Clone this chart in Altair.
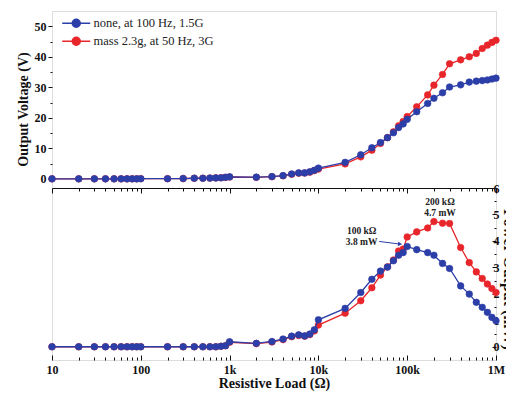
import altair as alt
import pandas as pd

SERIF = "Liberation Serif"

resistance = [10, 20, 30, 40, 50, 60, 70, 80, 90, 100,
              200, 300, 400, 500, 600, 700, 800, 900, 1000,
              2000, 3000, 4000, 5000, 6000, 7000, 8000, 9000, 10000,
              20000, 30000, 40000, 50000, 60000, 70000, 80000, 90000, 100000,
              128000, 170000, 200000, 250000, 300000, 400000, 500000, 600000,
              700000, 800000, 900000, 1000000]

blue_voltage = [0, 0, 0, 0, 0, 0, 0, 0, 0, 0.05,
                0.05, 0.1, 0.2, 0.2, 0.25, 0.3, 0.35, 0.5, 0.65,
                0.55, 0.75, 1.05, 1.6, 1.95, 1.95, 2.3, 2.8, 3.5,
                5.4, 7.9, 10.2, 11.9, 13.5, 15.1, 16.8, 18.0, 19.5,
                22.0, 24.7, 26.4, 28.2, 30.1, 30.8, 31.7, 32.0, 32.2,
                32.4, 32.7, 33.0]

red_voltage = [0, 0, 0, 0, 0, 0, 0, 0, 0, 0.05,
               0.05, 0.1, 0.2, 0.2, 0.25, 0.3, 0.35, 0.5, 0.6,
               0.5, 0.7, 1.0, 1.5, 1.85, 1.9, 2.2, 2.7, 3.2,
               4.9, 7.2, 9.4, 11.6, 13.5, 15.4, 17.4, 18.8, 20.4,
               23.6, 27.5, 30.7, 34.2, 37.7, 39.0, 40.0, 41.1, 42.7,
               43.8, 44.7, 45.4]

blue_power = [0, 0, 0, 0, 0, 0, 0, 0, 0, 0,
              0, 0, 0, 0, 0, 0, 0.02, 0.04, 0.19,
              0.13, 0.2, 0.29, 0.4, 0.45, 0.41, 0.48, 0.64, 1.02,
              1.45, 2.05, 2.55, 2.86, 3.01, 3.25, 3.46, 3.56, 3.79,
              3.67, 3.56, 3.46, 3.15, 2.96, 2.30, 1.99, 1.68, 1.49,
              1.30, 1.11, 0.98]

red_power = [0, 0, 0, 0, 0, 0, 0, 0, 0, 0,
             0, 0, 0, 0, 0, 0, 0.02, 0.04, 0.17,
             0.12, 0.18, 0.27, 0.38, 0.43, 0.4, 0.46, 0.6, 0.82,
             1.27, 1.74, 2.23, 2.71, 3.02, 3.28, 3.62, 3.69, 4.15,
             4.34, 4.49, 4.73, 4.67, 4.66, 3.75, 3.18, 2.83, 2.58,
             2.37, 2.20, 2.05]

series_names = ["none, at 100 Hz, 1.5G", "mass 2.3g, at 50 Hz, 3G"]
series_colors = ["#2c3ea8", "#e8252a"]

x_major = [10, 100, 1000, 10000, 100000, 1000000]
x_minor = [20, 30, 40, 50, 60, 70, 80, 90,
           200, 300, 400, 500, 600, 700, 800, 900,
           2000, 3000, 4000, 5000, 6000, 7000, 8000, 9000,
           20000, 30000, 40000, 50000, 60000, 70000, 80000, 90000,
           200000, 300000, 400000, 500000, 600000, 700000, 800000, 900000]
v_major = [0, 10, 20, 30, 40, 50]
v_minor = [5, 15, 25, 35, 45]
p_major = [0, 1, 2, 3, 4, 5, 6]
p_minor = [0.5, 1.5, 2.5, 3.5, 4.5, 5.5]

ann_R = [30700, 30700, 234000, 234000]
ann_P = [4.37, 3.95, 5.47, 5.04]
ann_text = ["100 kΩ", "3.8 mW", "200 kΩ", "4.7 mW"]
arrow_R = [48400, 83000]
arrow_P = [3.98, 3.88]

rows = []
for name, vv, pp in [(series_names[0], blue_voltage, blue_power),
                     (series_names[1], red_voltage, red_power)]:
    for r, v, p in zip(resistance, vv, pp):
        rows.append({"R": r, "V": v, "P": p, "series": name})
df = pd.DataFrame(rows)
ann_df = pd.DataFrame({"R": ann_R, "P": ann_P, "t": ann_text})
arrow_df = pd.DataFrame({"R": arrow_R, "P": arrow_P})
head_df = arrow_df.tail(1)

# layout (pixels): top panel and bottom panel stacked in one view
W, H_TOP, H_BOT = 444, 177, 172
H = H_TOP + H_BOT

xscale = alt.Scale(type="log", domain=[10, 1000000], nice=False)
cscale = alt.Scale(domain=series_names, range=series_colors)
# voltage occupies the upper band, power the lower band of one shared view
v_lo, v_hi = -3, 55
vscale = alt.Scale(domain=[v_hi - (v_hi - v_lo) * H / H_TOP, v_hi], nice=False)
p_lo, p_hi = -0.5, 6
pscale = alt.Scale(domain=[p_lo, p_lo + (p_hi - p_lo) * H / H_BOT], nice=False)

legend_path = "M-3.5,0H3.5M-1,0A1,1,0,1,1,1,0A1,1,0,1,1,-1,0Z"
legend = alt.Legend(title=None, orient="none", legendX=18, legendY=6,
                    symbolType=legend_path, symbolSize=64,
                    symbolStrokeWidth=1.5, labelFont=SERIF,
                    labelFontSize=12.5, labelOffset=11, rowPadding=3,
                    padding=0, labelColor="#222")

lab = dict(labelFont=SERIF, labelFontWeight="bold", labelFontSize=12,
           labelColor="#111", tickColor="#111", grid=False, labelFlush=False)

mid_x_major = alt.Axis(values=x_major, labels=False, tickSize=5, domain=True,
                       domainColor="#111", title=None, orient="bottom",
                       offset=-H_BOT, **lab)
mid_x_minor = alt.Axis(values=x_minor, labels=False, tickSize=3, domain=False,
                       title=None, orient="bottom", offset=-H_BOT, **lab)
v_axis_major = alt.Axis(values=v_major, tickSize=4, labelPadding=2, domain=False,
                        orient="left", title="Output Voltage (V)",
                        titleFont=SERIF, titleFontWeight="bold",
                        titleFontSize=14, titleColor="#111", titlePadding=4,
                        titleY=98, **lab)
v_axis_minor = alt.Axis(values=v_minor, labels=False, tickSize=2, domain=False,
                        title=None, orient="left", **lab)
bot_x_major = alt.Axis(values=x_major, tickSize={"expr": "-5"}, domain=False,
                       labelPadding=9, orient="bottom",
                       labelExpr="datum.value >= 1000000 ? '1M' : datum.value >= 1000 ? format(datum.value/1000, 'd') + 'k' : format(datum.value, 'd')",
                       title="Resistive Load (Ω)", titleFont=SERIF,
                       titleFontWeight="bold", titleFontSize=14,
                       titleColor="#111", titlePadding=1, **lab)
bot_x_minor = alt.Axis(values=x_minor, labels=False, tickSize={"expr": "-3"},
                       domain=False, title=None, orient="bottom", **lab)
p_axis_major = alt.Axis(values=p_major, tickSize={"expr": "-4"}, labelPadding=1,
                        domain=False, orient="right",
                        title="Power Output (mW)", titleFont=SERIF,
                        titleFontWeight="bold", titleFontSize=16,
                        titleColor="#111", titlePadding=1, titleY=268, **lab)
p_axis_minor = alt.Axis(values=p_minor, labels=False, tickSize={"expr": "-2"},
                        domain=False, title=None, orient="right", **lab)


def series_layers(ycol, yscale, axes):
    layers = []
    k = 0
    for name in [series_names[1], series_names[0]]:
        sub = alt.Chart(df).transform_filter(alt.datum.series == name)
        for kind in ["line", "point"]:
            ax = axes[k] if k < len(axes) else (None, None)
            k += 1
            enc = dict(
                x=alt.X("R:Q", scale=xscale, axis=ax[0]),
                y=alt.Y(f"{ycol}:Q", scale=yscale, axis=ax[1]),
                stroke=alt.Stroke("series:N", scale=cscale, legend=legend),
            )
            if kind == "line":
                layers.append(sub.mark_line(strokeWidth=1.3).encode(**enc))
            else:
                layers.append(sub.mark_point(filled=True, size=44, opacity=1,
                                             strokeWidth=0.6, shape="circle")
                              .encode(fill=alt.Fill("series:N", scale=cscale,
                                                    legend=legend), **enc))
    return layers


volt = alt.layer(*series_layers("V", vscale, [(mid_x_major, v_axis_major),
                                              (mid_x_minor, v_axis_minor)])
                 ).resolve_axis(x="independent", y="independent")

arrow = alt.Chart(arrow_df).mark_line(color=series_colors[0], strokeWidth=1).encode(
    x=alt.X("R:Q", scale=xscale, axis=None),
    y=alt.Y("P:Q", scale=pscale, axis=None))
head = alt.Chart(head_df).mark_point(shape="triangle-right", filled=True,
                                     size=22, color=series_colors[0],
                                     opacity=1, angle=7).encode(
    x=alt.X("R:Q", scale=xscale, axis=None),
    y=alt.Y("P:Q", scale=pscale, axis=None))
texts = alt.Chart(ann_df).mark_text(font=SERIF, fontWeight="bold", fontSize=9.5,
                                    color="#222").encode(
    x=alt.X("R:Q", scale=xscale, axis=None),
    y=alt.Y("P:Q", scale=pscale, axis=None),
    text="t:N")
power = alt.layer(*series_layers("P", pscale, [(bot_x_major, p_axis_major),
                                               (bot_x_minor, p_axis_minor)]),
                  arrow, head, texts
                  ).resolve_axis(x="independent", y="independent")

chart = (alt.layer(volt, power)
         .resolve_scale(y="independent")
         .resolve_axis(x="independent", y="independent")
         .properties(width=W, height=H,
                     autosize=alt.AutoSizeParams(type="none"),
                     padding={"left": 44, "top": 3, "right": 10, "bottom": 33})
         .configure_view(stroke="#333", strokeWidth=1)
         .configure(background="white"))

chart.save("out.html", embed_options={"renderer": "svg", "actions": False})
